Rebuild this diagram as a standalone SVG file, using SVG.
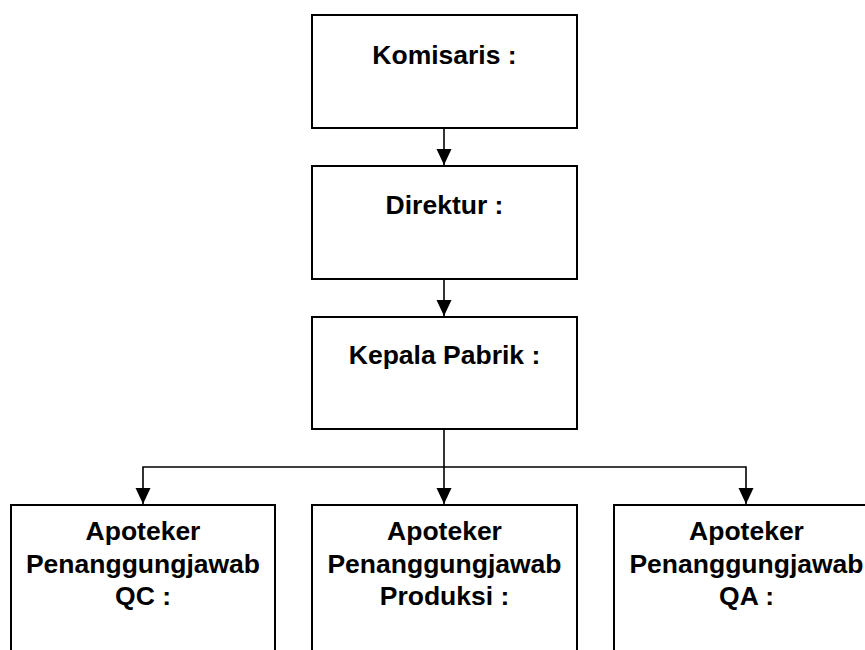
<svg xmlns="http://www.w3.org/2000/svg" width="865" height="650" viewBox="0 0 865 650">
<style>
.box{fill:#fff;stroke:#000;stroke-width:2}
.lbl{font-family:"Liberation Sans",Arial,sans-serif;font-weight:bold;font-size:26.5px;fill:#000;text-anchor:middle}
.con{fill:none;stroke:#000;stroke-width:1.6}
</style>
<defs>
<marker id="ah" markerUnits="userSpaceOnUse" markerWidth="16" markerHeight="16" viewBox="0 0 16 16" refX="16" refY="8" orient="auto">
<path d="M0,0.5 L16,8 L0,15.5 Z" fill="#000"/>
</marker>
</defs>
<rect width="865" height="650" fill="#fff"/>
<g id="connectors">
<path class="con" d="M444,128 V165" marker-end="url(#ah)"/>
<path class="con" d="M444,279 V316" marker-end="url(#ah)"/>
<path class="con" d="M444,429 V504" marker-end="url(#ah)"/>
<path class="con" d="M444,467 H143 V504" marker-end="url(#ah)"/>
<path class="con" d="M444,467 H746 V504" marker-end="url(#ah)"/>
</g>
<g id="komisaris">
<rect class="box" x="312" y="15" width="265" height="113"/>
<text class="lbl" x="444.5" y="64">Komisaris :</text>
</g>
<g id="direktur">
<rect class="box" x="312" y="166" width="265" height="113"/>
<text class="lbl" x="444.5" y="214">Direktur :</text>
</g>
<g id="kepala-pabrik">
<rect class="box" x="312" y="317" width="265" height="112"/>
<text class="lbl" x="444.5" y="364">Kepala Pabrik :</text>
</g>
<g id="apoteker-qc">
<rect class="box" x="11" y="505" width="264" height="160"/>
<text class="lbl" x="143" y="540">Apoteker</text>
<text class="lbl" x="143" y="573">Penanggungjawab</text>
<text class="lbl" x="143" y="605">QC :</text>
</g>
<g id="apoteker-produksi">
<rect class="box" x="312" y="505" width="265" height="160"/>
<text class="lbl" x="444.5" y="540">Apoteker</text>
<text class="lbl" x="444.5" y="573">Penanggungjawab</text>
<text class="lbl" x="444.5" y="605">Produksi :</text>
</g>
<g id="apoteker-qa">
<rect class="box" x="614" y="505" width="265" height="160"/>
<text class="lbl" x="746.5" y="540">Apoteker</text>
<text class="lbl" x="746.5" y="573">Penanggungjawab</text>
<text class="lbl" x="746.5" y="605">QA :</text>
</g>
</svg>
